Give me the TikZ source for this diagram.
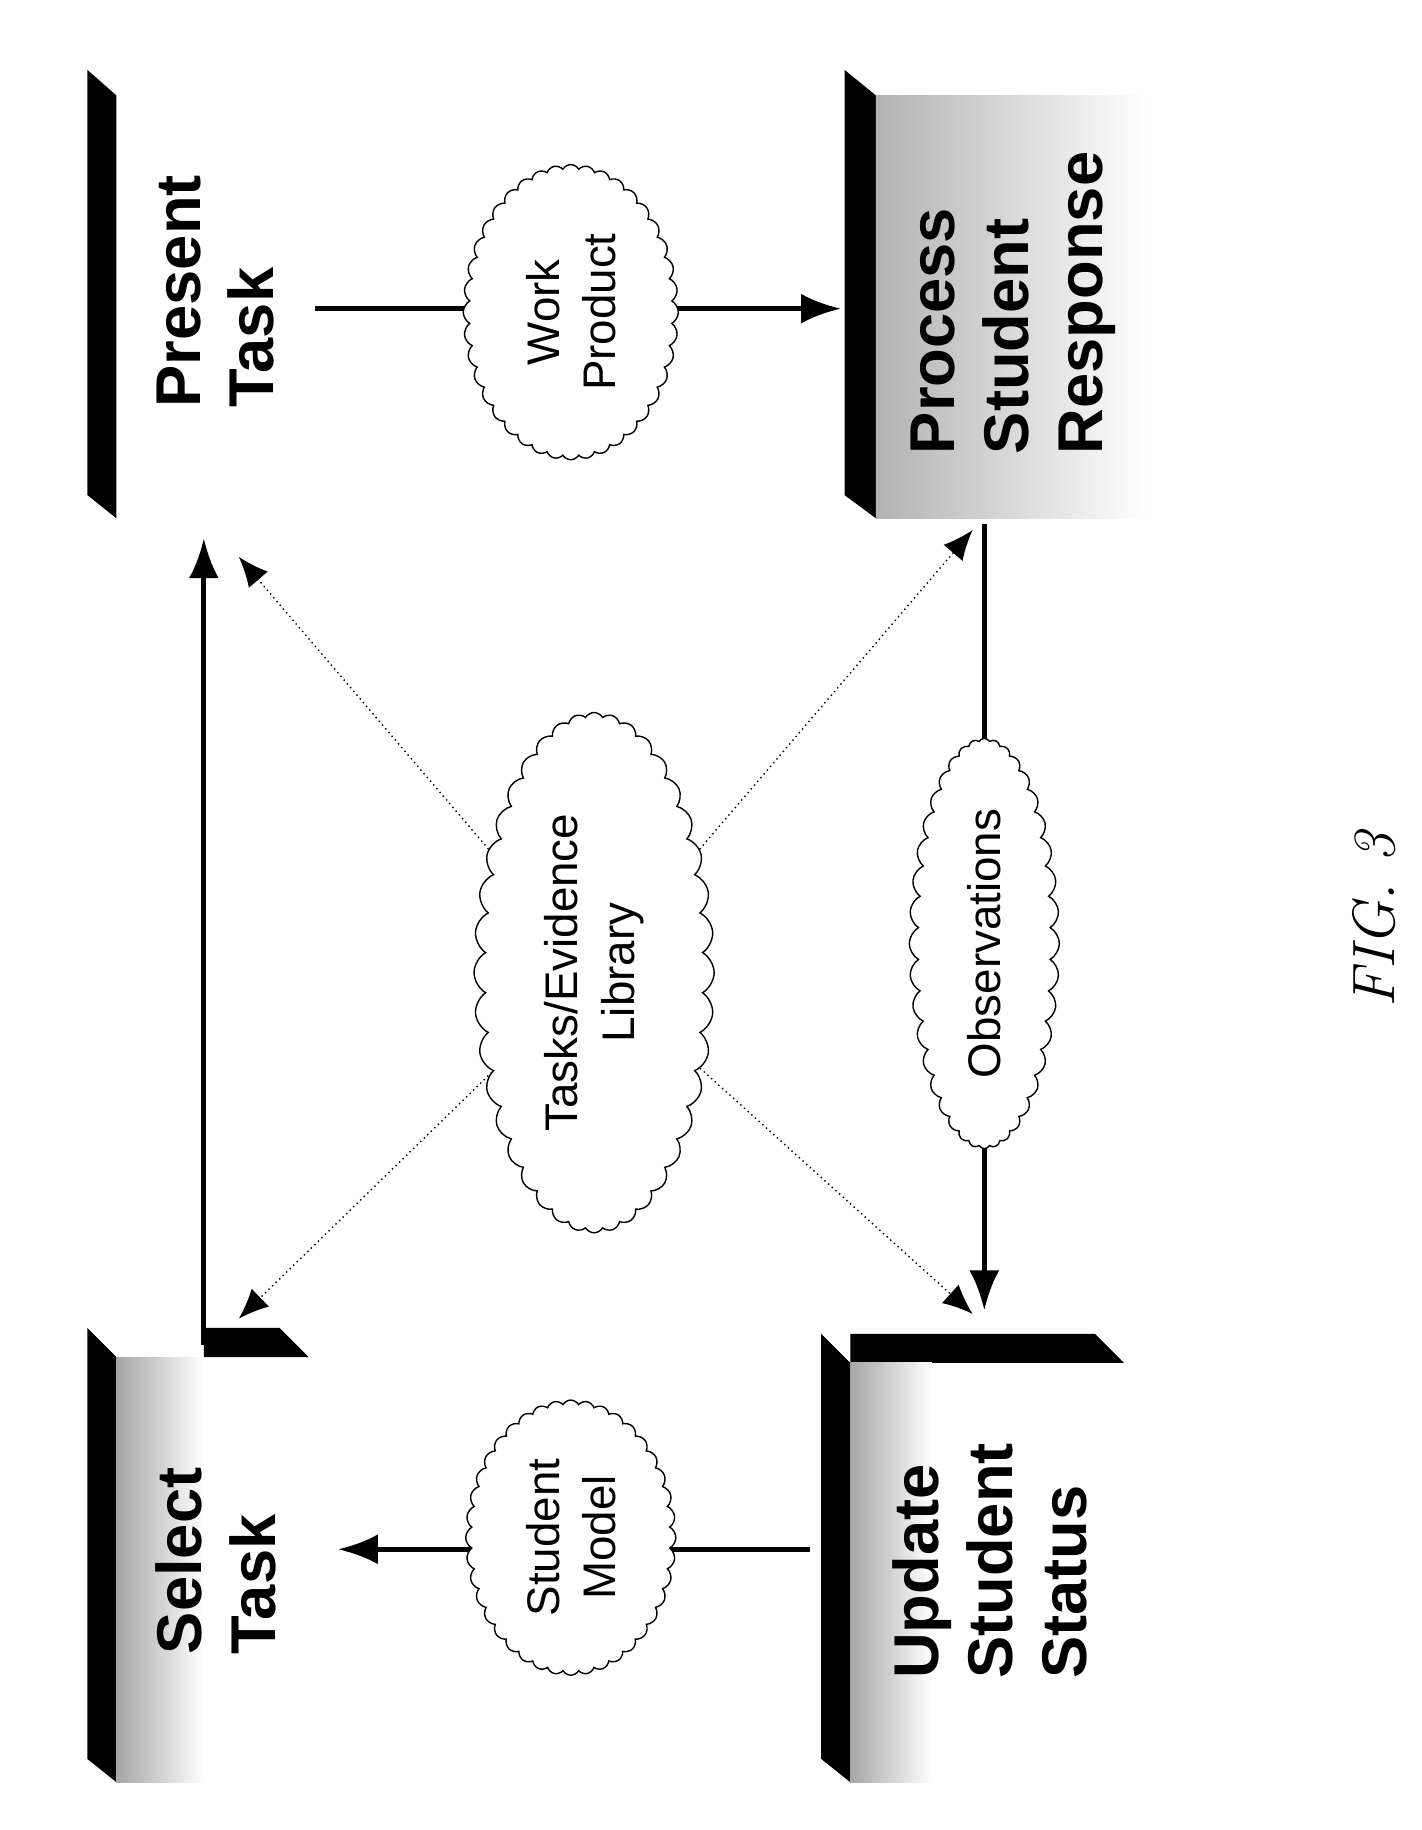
\documentclass[tikz,border=0pt]{standalone}
\usepackage{fontspec}
\setsansfont{Liberation Sans}
\usetikzlibrary{positioning,shapes.symbols,arrows.meta,backgrounds}

\tikzset{
  title/.style = {rotate=90, font=\sffamily\bfseries\fontsize{18}{21}\selectfont, align=left},
  blob/.style = {draw, cloud, cloud puffs=40, cloud puff arc=120, cloud ignores aspect, rotate=90, fill=white,
                 font=\sffamily\fontsize{13}{16}\selectfont, align=center, inner sep=0pt},
  flow/.style = {line width=1.5pt, -{Latex[length=4mm,width=3mm]}},
  hint/.style = {densely dotted, -{Latex[length=3mm,width=2.5mm]}}
}

\begin{document}
\begin{tikzpicture}[x=0.01165cm, y=-0.01165cm]
    \useasboundingbox (0,0) rectangle (1220,1571);
    % titles
    \node[title] (present) at (185,250) {Present\\Task};
    \node[title] (process) at (870,260) {Process\\Student\\Response};
    \node[title] (select) at (185,1340) {Select\\Task};
    \node[title] (update) at (850,1340) {Update\\Student\\Status};
    % clouds
    \node[blob, minimum width=2.95cm, minimum height=2.15cm] (work) at (490,268) {Work\\Product};
    \node[blob, minimum width=4.1cm, minimum height=1.5cm] (obs) at (845,810) {Observations};
    \node[blob, minimum width=5.2cm, minimum height=2.4cm] (lib) at (510,835) {Tasks/Evidence\\Library};
    \node[blob, minimum width=2.75cm, minimum height=2.1cm] (model) at (490,1320) {Student\\Model};
    % arrow ends
    \coordinate (a1) at (270,265);
    \coordinate (a2) at (722,265);
    \coordinate (b1) at (845,450);
    \coordinate (b2) at (845,1125);
    \coordinate (c1) at (695,1330);
    \coordinate (c2) at (290,1330);
    \coordinate (d1) at (175,1155);
    \coordinate (d2) at (175,462);
    \coordinate (p) at (205,478);
    \coordinate (q) at (835,455);
    \coordinate (s) at (205,1132);
    \coordinate (u) at (835,1128);
    \begin{scope}[on background layer]
    % slabs
    \fill[black] (75,60) -- (100,82) -- (100,445) -- (75,425) -- cycle;
    \fill[black] (725,60) -- (752,82) -- (752,445) -- (725,425) -- cycle;
    \shade[left color=gray!60, right color=white] (752,82) rectangle (985,445);
    \fill[black] (75,1140) -- (100,1165) -- (100,1530) -- (75,1510) -- cycle;
    \fill[black] (175,1140) -- (240,1140) -- (265,1165) -- (175,1165) -- cycle;
    \shade[left color=gray!70, right color=white] (100,1165) rectangle (175,1530);
    \fill[black] (705,1145) -- (730,1170) -- (730,1530) -- (705,1510) -- cycle;
    \fill[black] (730,1145) -- (940,1145) -- (965,1170) -- (730,1170) -- cycle;
    \shade[left color=gray!70, right color=white] (730,1170) rectangle (800,1530);
    \draw[flow] (a1) -- (a2);
    \draw[flow] (b1) -- (b2);
    \draw[flow] (c1) -- (c2);
    \draw[flow] (d1) -- (d2);
    \draw[hint] (lib.center) -- (p);
    \draw[hint] (lib.center) -- (q);
    \draw[hint] (lib.center) -- (s);
    \draw[hint] (lib.center) -- (u);
    \end{scope}
    \node[rotate=90, font=\itshape\fontsize{17}{20}\selectfont] (fig) at (1180,790) {FIG. 3};
\end{tikzpicture}
\end{document}
